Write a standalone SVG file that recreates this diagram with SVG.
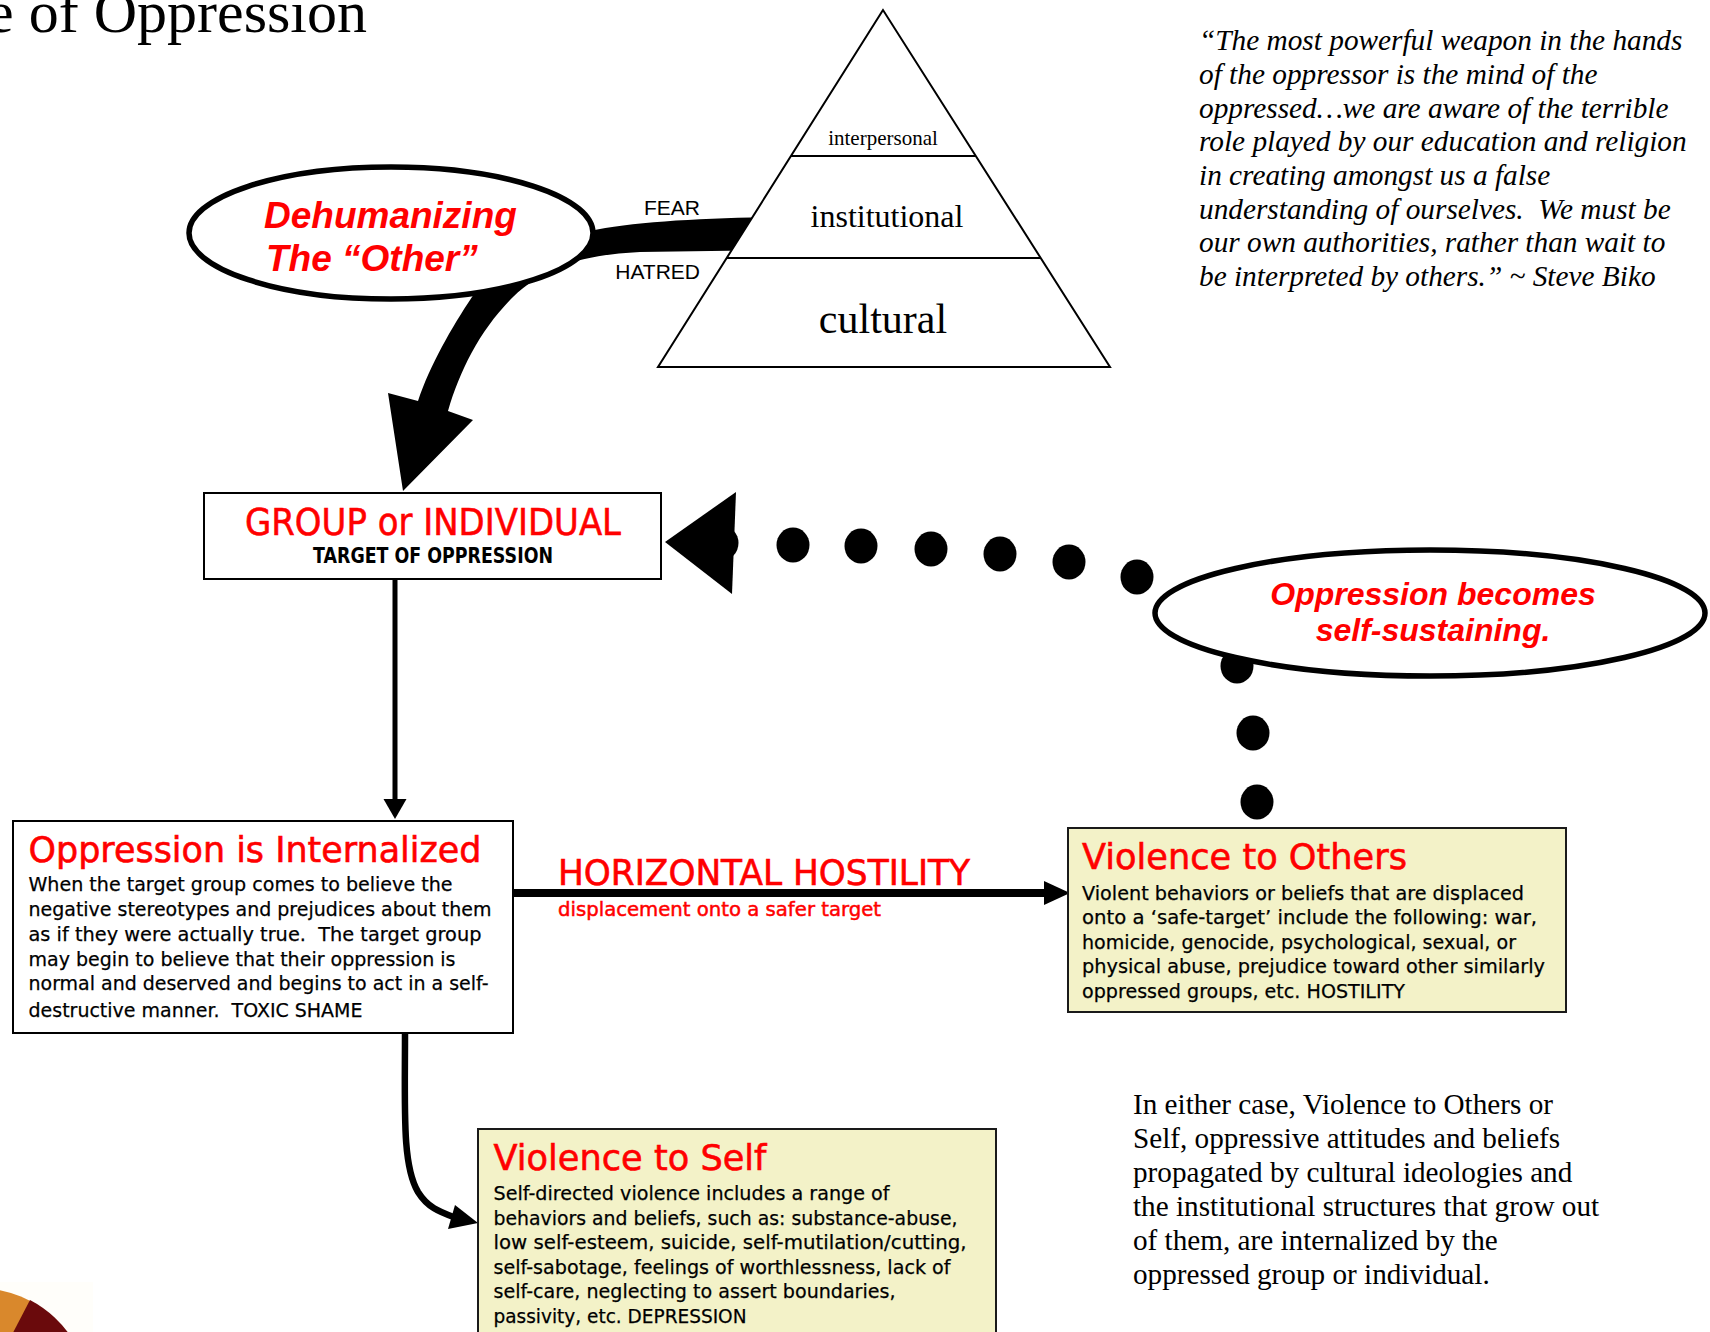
<svg xmlns="http://www.w3.org/2000/svg" width="1710" height="1332" viewBox="0 0 1710 1332">
<style>
.serif{font-family:"Liberation Serif","Times New Roman",serif;fill:#000}
.ital{font-family:"Liberation Serif","Times New Roman",serif;font-style:italic;fill:#000;font-size:29.3px}
.para{font-family:"Liberation Serif","Times New Roman",serif;fill:#000;font-size:29.2px}
.arial{font-family:"Liberation Sans",Arial,sans-serif;fill:#000}
.bubble{font-family:"Liberation Sans",Arial,sans-serif;font-weight:bold;font-style:italic;fill:#FF0000}
.tah{font-family:"DejaVu Sans",Verdana,sans-serif}
.ttl{font-family:"DejaVu Sans",Verdana,sans-serif;fill:#FF0000;font-size:36px;stroke:#FF0000;stroke-width:0.6}
.body{font-family:"DejaVu Sans",Verdana,sans-serif;fill:#000;font-size:20px;stroke:#000;stroke-width:0.25}
.box{fill:#FFFFFF;stroke:#000;stroke-width:2}
.ybox{fill:#F3F2C8;stroke:#1a1a1a;stroke-width:2}
.oval{fill:#FFFFFF;stroke:#000;stroke-width:5.5}
.dot{fill:#000}
</style>

<!-- title fragment -->
<text class="serif" x="367" y="32" font-size="60" text-anchor="end">e of Oppression</text>

<!-- decorative fragment bottom-left -->
<g id="pie-fragment">
  <rect x="0" y="1282" width="93" height="50" fill="#FFFEFA"/>
  <circle cx="-22" cy="1400" r="112" fill="#D9882C"/>
  <path d="M-22,1400 L30,1300 A112,112 0 0 1 90,1400 Z" fill="#6A0A0C"/>
</g>

<g id="connectors">
  <!-- thick band from pyramid through Dehumanizing to GROUP -->
  <path d="M775,217 C700,218 630,222 590,231 C540,245 495,265 472,297 C452,327 430,365 418,401 L388,393 L403,491 L473,420 L448,411 C460,370 480,330 513,297 C545,267 580,255 640,252 L775,250 Z" fill="#000"/>
  <text class="arial" x="700" y="215" font-size="21" text-anchor="end">FEAR</text>
  <text class="arial" x="700" y="279" font-size="21" text-anchor="end">HATRED</text>

  <!-- GROUP -> Oppression Internalized -->
  <line x1="395" y1="579" x2="395" y2="802" stroke="#000" stroke-width="5"/>
  <polygon points="383.5,799 406.5,799 395,819" fill="#000"/>

  <!-- Horizontal hostility -->
  <line x1="513" y1="893" x2="1046" y2="893" stroke="#000" stroke-width="8"/>
  <polygon points="1044,881 1070,893 1044,905" fill="#000"/>
  <text class="tah" x="558" y="885" font-size="35" fill="#FF0000" stroke="#FF0000" stroke-width="0.6" textLength="412" lengthAdjust="spacingAndGlyphs">HORIZONTAL HOSTILITY</text>
  <text class="tah" x="558" y="916" font-size="20" fill="#FF0000" stroke="#FF0000" stroke-width="0.5" textLength="323" lengthAdjust="spacingAndGlyphs">displacement onto a safer target</text>

  <!-- Oppression Internalized -> Violence to Self -->
  <path d="M405,1033 C405,1110 402,1165 418,1192 C428,1208 440,1212 456,1218" fill="none" stroke="#000" stroke-width="6.5"/>
  <polygon points="455,1205 478,1223 448,1229" fill="#000"/>

  <!-- dotted loop -->
  <ellipse class="dot" cx="1257" cy="802" rx="16.5" ry="17.5"/>
  <ellipse class="dot" cx="1253" cy="733" rx="16.5" ry="17.5"/>
  <ellipse class="dot" cx="1237" cy="666" rx="16.5" ry="17.5"/>
  <ellipse class="dot" cx="1137" cy="577" rx="16.5" ry="17.5"/>
  <ellipse class="dot" cx="1069" cy="562" rx="16.5" ry="17.5"/>
  <ellipse class="dot" cx="1000" cy="554" rx="16.5" ry="17.5"/>
  <ellipse class="dot" cx="931" cy="549" rx="16.5" ry="17.5"/>
  <ellipse class="dot" cx="861" cy="546" rx="16.5" ry="17.5"/>
  <ellipse class="dot" cx="793" cy="545" rx="16.5" ry="17.5"/>
  <ellipse class="dot" cx="722" cy="543" rx="16.5" ry="17.5"/>
  <polygon points="665,542 736,492 732,594" fill="#000"/>
</g>

<g id="dehumanizing">
  <ellipse class="oval" cx="391" cy="233" rx="202" ry="66"/>
  <text class="bubble" x="264" y="228" font-size="37">Dehumanizing</text>
  <text class="bubble" x="266" y="271" font-size="37">The “Other”</text>
</g>

<g id="pyramid">
  <polygon points="883,10 658,367 1110,367" fill="#FFFFFF" stroke="#000" stroke-width="2"/>
  <line x1="791" y1="156" x2="976" y2="156" stroke="#000" stroke-width="2"/>
  <line x1="727" y1="258" x2="1041" y2="258" stroke="#000" stroke-width="2"/>
  <text class="serif" x="883" y="145" font-size="21" text-anchor="middle">interpersonal</text>
  <text class="serif" x="887" y="227" font-size="32" text-anchor="middle">institutional</text>
  <text class="serif" x="883" y="333" font-size="42" text-anchor="middle">cultural</text>
</g>

<g id="quote">
  <text class="ital" x="1199" y="50">“The most powerful weapon in the hands</text>
  <text class="ital" x="1199" y="84">of the oppressor is the mind of the</text>
  <text class="ital" x="1199" y="117.5">oppressed…we are aware of the terrible</text>
  <text class="ital" x="1199" y="151">role played by our education and religion</text>
  <text class="ital" x="1199" y="185">in creating amongst us a false</text>
  <text class="ital" x="1199" y="218.5">understanding of ourselves.&#160; We must be</text>
  <text class="ital" x="1199" y="252">our own authorities, rather than wait to</text>
  <text class="ital" x="1199" y="286">be interpreted by others.” ~ Steve Biko</text>
</g>

<g id="group-individual">
  <rect class="box" x="204" y="493" width="457" height="86"/>
  <text class="tah" x="433" y="535" font-size="38" fill="#FF0000" stroke="#FF0000" stroke-width="0.6" text-anchor="middle" textLength="376" lengthAdjust="spacingAndGlyphs">GROUP or INDIVIDUAL</text>
  <text class="tah" x="433" y="563" font-size="21" font-weight="bold" fill="#000" text-anchor="middle" textLength="240" lengthAdjust="spacingAndGlyphs">TARGET OF OPPRESSION</text>
</g>

<g id="self-sustaining">
  <ellipse class="oval" cx="1430" cy="613" rx="275" ry="63"/>
  <text class="bubble" x="1433" y="605" font-size="32" text-anchor="middle">Oppression becomes</text>
  <text class="bubble" x="1433" y="641" font-size="32" text-anchor="middle">self-sustaining.</text>
</g>

<g id="internalized">
  <rect class="box" x="13" y="821" width="500" height="212"/>
  <text class="ttl" x="28.5" y="862" textLength="453" lengthAdjust="spacingAndGlyphs">Oppression is Internalized</text>
  <text class="body" x="28.5" y="891" textLength="424" lengthAdjust="spacingAndGlyphs">When the target group comes to believe the</text>
  <text class="body" x="28.5" y="916" textLength="463" lengthAdjust="spacingAndGlyphs">negative stereotypes and prejudices about them</text>
  <text class="body" x="28.5" y="941" textLength="453" lengthAdjust="spacingAndGlyphs">as if they were actually true.&#160; The target group</text>
  <text class="body" x="28.5" y="966" textLength="427" lengthAdjust="spacingAndGlyphs">may begin to believe that their oppression is</text>
  <text class="body" x="28.5" y="990" textLength="460" lengthAdjust="spacingAndGlyphs">normal and deserved and begins to act in a self-</text>
  <text class="body" x="28.5" y="1017" textLength="334" lengthAdjust="spacingAndGlyphs">destructive manner.&#160; TOXIC SHAME</text>
</g>

<g id="violence-others">
  <rect class="ybox" x="1068" y="828" width="498" height="184"/>
  <text class="ttl" x="1082" y="869" textLength="325" lengthAdjust="spacingAndGlyphs">Violence to Others</text>
  <text class="body" x="1082" y="899.5" textLength="442" lengthAdjust="spacingAndGlyphs">Violent behaviors or beliefs that are displaced</text>
  <text class="body" x="1082" y="924" textLength="455" lengthAdjust="spacingAndGlyphs">onto a ‘safe-target’ include the following: war,</text>
  <text class="body" x="1082" y="948.5" textLength="434" lengthAdjust="spacingAndGlyphs">homicide, genocide, psychological, sexual, or</text>
  <text class="body" x="1082" y="973" textLength="463" lengthAdjust="spacingAndGlyphs">physical abuse, prejudice toward other similarly</text>
  <text class="body" x="1082" y="997.5" textLength="323" lengthAdjust="spacingAndGlyphs">oppressed groups, etc. HOSTILITY</text>
</g>

<g id="violence-self">
  <rect class="ybox" x="478" y="1129" width="518" height="220"/>
  <text class="ttl" x="493.5" y="1170" textLength="273" lengthAdjust="spacingAndGlyphs">Violence to Self</text>
  <text class="body" x="493.5" y="1200" textLength="396" lengthAdjust="spacingAndGlyphs">Self-directed violence includes a range of</text>
  <text class="body" x="493.5" y="1224.5" textLength="464" lengthAdjust="spacingAndGlyphs">behaviors and beliefs, such as: substance-abuse,</text>
  <text class="body" x="493.5" y="1249" textLength="473" lengthAdjust="spacingAndGlyphs">low self-esteem, suicide, self-mutilation/cutting,</text>
  <text class="body" x="493.5" y="1273.5" textLength="457" lengthAdjust="spacingAndGlyphs">self-sabotage, feelings of worthlessness, lack of</text>
  <text class="body" x="493.5" y="1298" textLength="402" lengthAdjust="spacingAndGlyphs">self-care, neglecting to assert boundaries,</text>
  <text class="body" x="493.5" y="1323" textLength="253" lengthAdjust="spacingAndGlyphs">passivity, etc. DEPRESSION</text>
</g>

<g id="summary">
  <text class="para" x="1133" y="1114">In either case, Violence to Others or</text>
  <text class="para" x="1133" y="1148">Self, oppressive attitudes and beliefs</text>
  <text class="para" x="1133" y="1182">propagated by cultural ideologies and</text>
  <text class="para" x="1133" y="1216">the institutional structures that grow out</text>
  <text class="para" x="1133" y="1250">of them, are internalized by the</text>
  <text class="para" x="1133" y="1284">oppressed group or individual.</text>
</g>
</svg>
